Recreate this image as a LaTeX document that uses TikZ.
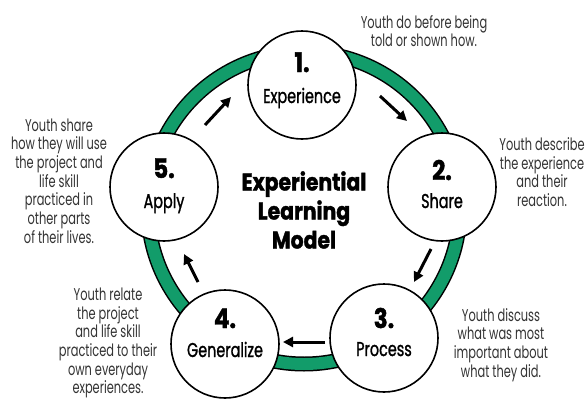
\documentclass[tikz,border=0pt]{standalone}
\usepackage{fontspec}
\newfontfamily\notefont[FakeStretch=0.67]{Poppins}
\newfontfamily\stagefont[FakeStretch=0.72,FakeBold=1.2]{Poppins}
\newfontfamily\headfont[FakeStretch=0.85,FakeBold=1.5]{Poppins}
\usetikzlibrary{arrows.meta,positioning}
\definecolor{ringgreen}{RGB}{18,156,106}

\begin{document}
\begin{tikzpicture}[x=1pt,y=-1pt,
    stage/.style={circle, draw, line width=1.6pt, fill=white, minimum size=108pt, inner sep=0pt},
    stagenum/.style={font=\headfont\bfseries\fontsize{27}{27}\selectfont, anchor=base, inner sep=0pt},
    stagename/.style={font=\stagefont\fontsize{20}{20}\selectfont, anchor=base, inner sep=0pt},
    note/.style={font=\notefont\fontsize{17}{18.7}\selectfont, align=center, text=black!80, inner sep=0pt},
    flow/.style={-{Triangle[length=10pt,width=10pt]}, line width=3pt},
    ]
\useasboundingbox (0,0) rectangle (587,399);

% the ring
\coordinate (hub) at (304,208);
\draw[line width=15pt] (hub) circle[radius=156pt];
\draw[ringgreen, line width=12pt] (hub) circle[radius=156pt];

% arrows between the stages
\foreach \i/\ax/\ay/\bx/\by in {1/380/96/407/121, 2/431/249/414/282, 3/325/342/283/342, 4/198/282/184/254, 5/205/125/231/97}
{
  \coordinate (tail\i) at (\ax,\ay);
  \coordinate (head\i) at (\bx,\by);
  \draw[flow] (tail\i) -- (head\i);
}

% the five stages
\foreach \name/\x/\y/\num/\txt/\nb/\tb in {exp/302/85/1./Experience/72/103, sha/442/187/2./Share/180/208, pro/384/338/3./Process/328/356, gen/225/344/4./Generalize/328/357, app/164/187/5./Apply/178/208}
{
  \node[stage] (\name) at (\x,\y) {};
  \node[stagenum] (\name-num) at (\x,\nb) {\num};
  \node[stagename] (\name-txt) at (\x,\tb) {\txt};
}

\node[font=\headfont\bfseries\fontsize{24}{29}\selectfont, align=center] (title) at (304,210) {Experiential\\Learning\\Model};

% what youth do
\node[note] (exp-note) at (424,31) {Youth do before being\\told or shown how.};
\node[note] (sha-note) at (542,172) {Youth describe\\the experience\\and their\\reaction.};
\node[note] (pro-note) at (501,345) {Youth discuss\\what was most\\important about\\what they did.};
\node[note] (gen-note) at (108,343) {Youth relate\\the project\\and life skill\\practiced to their\\own everyday\\experiences.};
\node[note] (app-note) at (59,181) {Youth share\\how they will use\\the project and\\life skill\\practiced in\\other parts\\of their lives.};

\end{tikzpicture}
\end{document}
